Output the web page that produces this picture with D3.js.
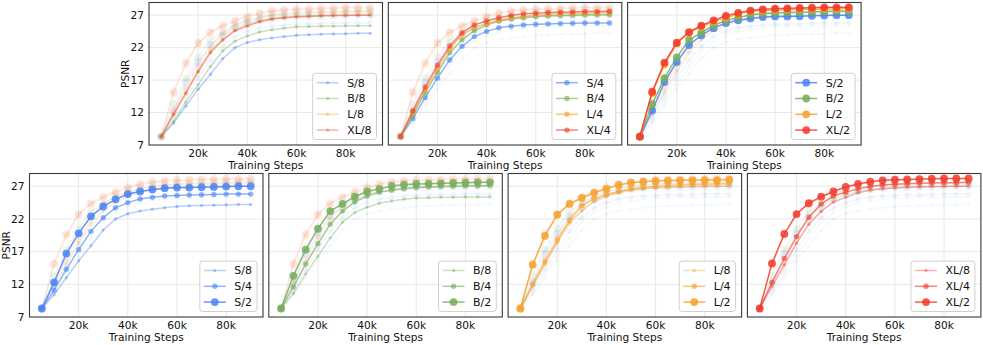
<!DOCTYPE html>
<html>
<head>
<meta charset="utf-8">
<script src="https://cdn.jsdelivr.net/npm/d3@7"></script>
<style>
  body { margin: 0; background: #fff; }
  svg { display: block; }
  text { font-family: "DejaVu Sans", sans-serif; fill: #111; }
</style>
</head>
<body>
<svg id="chart" width="983" height="345"></svg>
<script>
// Data
const steps = [5000, 10000, 15000, 20000, 25000, 30000, 35000, 40000, 45000,
               50000, 55000, 60000, 65000, 70000, 75000, 80000, 85000, 90000];
const models = ["S", "B", "L", "XL"];
const patches = ["8", "4", "2"];

const s8 = [8.3, 10.4, 13.0, 15.6, 17.9, 20.3, 22.0, 22.8, 23.2, 23.5, 23.7, 23.9, 24.0, 24.05, 24.1, 24.15, 24.2, 24.2];
const s4 = [8.3, 11.1, 14.3, 17.3, 20.1, 22.2, 23.7, 24.5, 25.05, 25.3, 25.5, 25.6, 25.65, 25.7, 25.75, 25.8, 25.8, 25.8];
const s2 = [8.3, 12.3, 16.7, 19.8, 22.4, 23.9, 25.0, 25.8, 26.2, 26.5, 26.7, 26.8, 26.8, 26.85, 26.9, 26.95, 27.0, 27.0];

const b8 = [8.3, 10.6, 13.6, 16.3, 19.1, 21.5, 23.0, 23.8, 24.4, 24.75, 25.0, 25.2, 25.25, 25.3, 25.3, 25.35, 25.35, 25.35];
const b4 = [8.3, 11.6, 15.1, 18.2, 21.2, 23.2, 24.6, 25.5, 26.1, 26.4, 26.6, 26.8, 26.9, 26.95, 27.0, 27.05, 27.05, 27.1];
const b2 = [8.3, 13.3, 17.3, 20.5, 23.2, 24.3, 25.4, 26.2, 26.6, 27.05, 27.25, 27.35, 27.4, 27.45, 27.5, 27.55, 27.6, 27.6];

const l8 = [8.3, 11.75, 15.1, 18.4, 21.5, 23.3, 24.7, 25.5, 26.0, 26.4, 26.6, 26.75, 26.8, 26.9, 26.95, 27.0, 27.0, 27.0];
const l4 = [8.3, 12.0, 15.5, 18.8, 21.8, 24.0, 25.1, 25.7, 26.2, 26.6, 26.8, 27.0, 27.1, 27.2, 27.25, 27.3, 27.35, 27.4];
const l2 = [8.3, 15.0, 19.4, 22.65, 24.3, 25.2, 26.0, 26.6, 27.2, 27.55, 27.7, 27.8, 27.85, 27.9, 27.9, 27.95, 27.95, 28.0];

const xl8 = [8.3, 11.7, 14.95, 18.3, 21.2, 23.15, 24.6, 25.3, 26.0, 26.4, 26.6, 26.75, 26.85, 26.9, 26.95, 26.95, 27.0, 27.0];
const xl4 = [8.3, 12.3, 15.95, 19.3, 22.25, 24.3, 25.5, 26.1, 26.6, 26.95, 27.2, 27.3, 27.4, 27.45, 27.5, 27.55, 27.55, 27.6];
const xl2 = [8.3, 15.2, 19.7, 22.75, 24.4, 25.4, 26.2, 26.9, 27.35, 27.7, 27.9, 28.0, 28.05, 28.1, 28.15, 28.2, 28.2, 28.2];

const yTicks = [7, 12, 17, 22, 27];
const xTicks = [20000, 40000, 60000, 80000];

// Styles
const colors = { S: "#4a84f6", B: "#74ae5a", L: "#f7a12a", XL: "#f23a2f" };
const alphas = { "8": 0.38, "4": 0.62, "2": 0.85 };
const radius = { "8": 1.7, "4": 2.7, "2": 3.9 };
const fontSize = 10.6;

const values = {
    S: { "8": s8, "4": s4, "2": s2 },
    B: { "8": b8, "4": b4, "2": b2 },
    L: { "8": l8, "4": l4, "2": l2 },
    XL: { "8": xl8, "4": xl4, "2": xl2 }
};

const series = [];
models.forEach(m => patches.forEach(p => {
    series.push({ model: m, patch: p, name: m + "/" + p, values: values[m][p] });
}));

const svg = d3.select("#chart");
const panelW = 233.5;
const step = 239.3;

const rows = [
    { top: 2.5, bottom: 145, lefts: [149, 149 + step, 149 + 2 * step],
      groups: patches.map(p => series.filter(s => s.patch === p)) },
    { top: 173.5, bottom: 317, lefts: [29.5, 29.5 + step, 29.5 + 2 * step, 29.5 + 3 * step],
      groups: models.map(m => series.filter(s => s.model === m)) }
];

rows.forEach(row => {
    row.groups.forEach((hl, i) => {
        const left = row.lefts[i];
        const x = d3.scaleLinear().domain([0, 95000]).range([left, left + panelW]);
        const y = d3.scaleLinear().domain([7, 28.95]).range([row.bottom, row.top]);
        drawPanel(x, y, hl, i === 0);
    });
});

function drawPanel(x, y, hl, showY) {
    const g = svg.append("g");
    const [x0, x1] = x.range();
    const [y0, y1] = y.range();

    // grid
    g.append("g").selectAll("line").data(xTicks).join("line")
        .attr("x1", d => x(d)).attr("x2", d => x(d))
        .attr("y1", y0).attr("y2", y1)
        .attr("stroke", "#e8e8e8").attr("stroke-width", 1);
    g.append("g").selectAll("line").data(yTicks.slice(1)).join("line")
        .attr("x1", x0).attr("x2", x1)
        .attr("y1", d => y(d)).attr("y2", d => y(d))
        .attr("stroke", "#e8e8e8").attr("stroke-width", 1);

    const line = d3.line().x((d, i) => x(steps[i])).y(d => y(d));

    const bg = series.filter(s => !hl.includes(s));
    const drawSeries = (s, a) => {
        const sg = g.append("g");
        sg.append("path").datum(s.values)
            .attr("d", line)
            .attr("fill", "none")
            .attr("stroke", colors[s.model])
            .attr("stroke-opacity", a)
            .attr("stroke-width", 1.5);
        sg.selectAll("circle").data(s.values).join("circle")
            .attr("cx", (d, i) => x(steps[i]))
            .attr("cy", d => y(d))
            .attr("r", radius[s.patch])
            .attr("fill", colors[s.model])
            .attr("fill-opacity", a);
    };
    // faded background runs, then the highlighted group
    bg.forEach(s => drawSeries(s, alphas[s.patch] * 0.12));
    hl.forEach(s => drawSeries(s, alphas[s.patch]));

    // frame
    g.append("rect")
        .attr("x", x0).attr("y", y1)
        .attr("width", x1 - x0).attr("height", y0 - y1)
        .attr("fill", "none").attr("stroke", "#3a3a3a").attr("stroke-width", 1.1);

    // x ticks
    g.append("g").selectAll("text").data(xTicks).join("text")
        .attr("x", d => x(d)).attr("y", y0 + 11.8)
        .attr("text-anchor", "middle")
        .attr("font-size", fontSize)
        .text(d => d3.format("d")(d / 1000) + "k");
    g.append("text")
        .attr("x", (x0 + x1) / 2).attr("y", y0 + 24)
        .attr("text-anchor", "middle")
        .attr("font-size", fontSize)
        .text("Training Steps");

    if (showY) {
        g.append("g").selectAll("text").data(yTicks).join("text")
            .attr("x", x0 - 5).attr("y", d => y(d))
            .attr("dy", "0.36em")
            .attr("text-anchor", "end")
            .attr("font-size", fontSize)
            .text(d => d);
        g.append("text")
            .attr("transform", `translate(${x0 - 20},${(y0 + y1) / 2}) rotate(-90)`)
            .attr("text-anchor", "middle")
            .attr("font-size", fontSize)
            .text("PSNR");
    }

    // legend
    const rowH = 15.8;
    const lg = g.append("g");
    const box = lg.append("rect");
    const items = lg.selectAll("g").data(hl).join("g");
    const labels = items.append("text")
        .attr("font-size", 11)
        .attr("dy", "0.36em")
        .text(d => d.name);
    let maxW = 0;
    labels.each(function () { maxW = Math.max(maxW, this.getComputedTextLength()); });
    const bw = 34.5 + maxW + 5;
    const bh = 18.8 + (hl.length - 1) * rowH;
    const bx = x1 - 6 - bw;
    const by = y0 - 5.5 - bh;
    box.attr("x", bx).attr("y", by).attr("width", bw).attr("height", bh)
        .attr("rx", 3).attr("fill", "#fff").attr("fill-opacity", 0.85)
        .attr("stroke", "#d0d0d0").attr("stroke-width", 1);
    items.attr("transform", (d, i) => `translate(${bx},${by + 9.4 + i * rowH})`);
    items.insert("line", "text")
        .attr("x1", 4).attr("x2", 26).attr("y1", 0).attr("y2", 0)
        .attr("stroke", d => colors[d.model])
        .attr("stroke-opacity", d => alphas[d.patch])
        .attr("stroke-width", 1.5);
    items.insert("circle", "text")
        .attr("cx", 15).attr("cy", 0)
        .attr("r", d => radius[d.patch])
        .attr("fill", d => colors[d.model])
        .attr("fill-opacity", d => alphas[d.patch]);
    labels.attr("x", 34.5);
}
</script>
</body>
</html>
